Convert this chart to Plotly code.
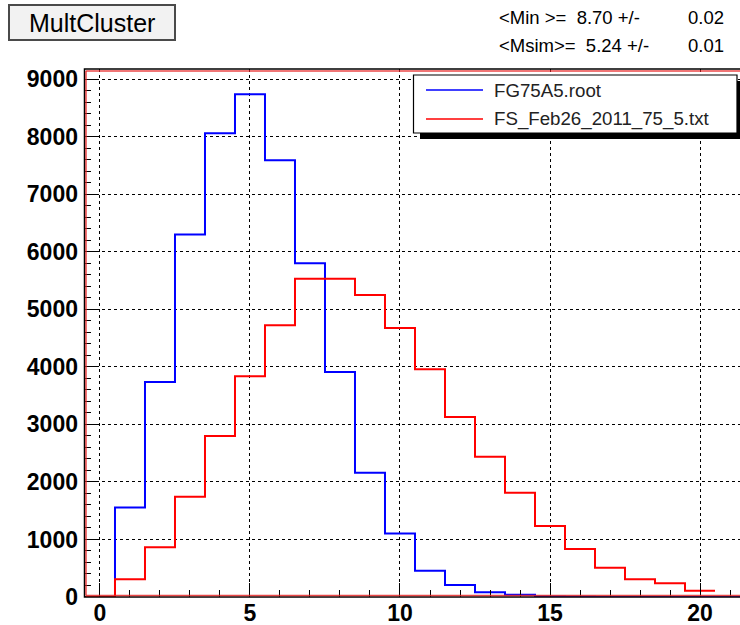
import numpy as np
import plotly.graph_objects as go

# Bin centres (unit-width bins) and counts for the two MultCluster histograms
bin_centres_in = list(range(0, 22))
counts_in = [0, 1557, 3738, 6300, 8060, 8740, 7590, 5800, 3910, 2160, 1105,
             457, 208, 81, 40, 10, 3, 0, 0, 0, 0, 0]

bin_centres_sim = list(range(0, 21))
counts_sim = [0, 307, 863, 1741, 2800, 3837, 4722, 5533, 5533, 5250, 4676,
              3958, 3130, 2436, 1811, 1233, 833, 509, 307, 238, 109]

legend_labels = ["FG75A5.root", "FS_Feb26_2011_75_5.txt"]
# mean values: label part and error part of each stats line
stats_left = ["<Min >=  8.70 +/-", "<Msim>=  5.24 +/-"]
stats_err = ["0.02", "0.01"]
title_text = "MultCluster"

x_ticks = [0, 5, 10, 15, 20]
y_ticks = [0, 1000, 2000, 3000, 4000, 5000, 6000, 7000, 8000, 9000]

W, H = 740, 625
L, R, T, B = 84, 0, 69, 28
PW, PH = W - L - R, H - T - B


def px(x):
    return (x - L) / PW


def py(y):
    return (H - B - y) / PH


def step_xy(centres, counts):
    """Histogram outline: left bin edges plus the final right edge."""
    c = np.asarray(centres, dtype=float)
    v = np.asarray(counts, dtype=float)
    xs = np.append(c - 0.5, c[-1] + 0.5)
    ys = np.append(v, v[-1])
    return xs, ys


def esc(s):
    return s.replace("<", "&lt;").replace(">", "&gt;").replace(" ", "\u00a0")


fig = go.Figure()

xb, yb = step_xy(bin_centres_in, counts_in)
fig.add_trace(go.Scatter(x=xb, y=yb, mode="lines", line_shape="hv",
                         line=dict(color="#0000ff", width=2),
                         name=legend_labels[0], showlegend=False))
xr, yr = step_xy(bin_centres_sim, counts_sim)
fig.add_trace(go.Scatter(x=xr, y=yr, mode="lines", line_shape="hv",
                         line=dict(color="#ff0000", width=2),
                         name=legend_labels[1], showlegend=False))

FONT = "Liberation Sans, Arial, Helvetica, sans-serif"
axis_common = dict(showgrid=True, gridcolor="black", gridwidth=1, griddash="dot",
                   zeroline=False, showline=False, ticks="inside",
                   tickcolor="black", tickwidth=1,
                   tickfont=dict(family=FONT, size=23, color="black", weight="bold"))

x_max = (W - 100) / 30.0
fig.update_xaxes(range=[-0.533, x_max], tickvals=x_ticks,
                 ticktext=[str(v) for v in x_ticks], ticklen=14,
                 minor=dict(ticks="inside", ticklen=7, dtick=1, tickcolor="black",
                            showgrid=False, tick0=0),
                 **axis_common)
fig.update_yaxes(range=[0, 9177], tickvals=y_ticks,
                 ticktext=[str(v) for v in y_ticks], ticklen=14,
                 minor=dict(ticks="inside", ticklen=7, dtick=200, tickcolor="black",
                            showgrid=False, tick0=0),
                 ticklabelstandoff=5,
                 **axis_common)

shapes = []
# frame: black outer edge with a red inner edge
shapes.append(dict(type="rect", xref="paper", yref="paper",
                   x0=px(84.5), x1=px(745), y0=py(597), y1=py(69),
                   line=dict(color="black", width=1.5), layer="above"))
for (xa, ya, xb_, yb_) in [(86, 71, 745, 71), (86, 71, 86, 595.5),
                           (86, 595.5, 745, 595.5)]:
    shapes.append(dict(type="line", xref="paper", yref="paper",
                       x0=px(xa), x1=px(xb_), y0=py(ya), y1=py(yb_),
                       line=dict(color="rgba(230,40,40,0.85)", width=1.5),
                       layer="above"))

# title box
shapes.append(dict(type="rect", xref="paper", yref="paper",
                   x0=px(10), x1=px(176), y0=py(41), y1=py(6),
                   fillcolor="#b8b8b8", line=dict(width=0), layer="above"))
shapes.append(dict(type="rect", xref="paper", yref="paper",
                   x0=px(9), x1=px(175), y0=py(40), y1=py(5),
                   fillcolor="#f2f2f2", line=dict(color="#4a4a4a", width=2),
                   layer="above"))

# legend box with drop shadow
shapes.append(dict(type="rect", xref="paper", yref="paper",
                   x0=px(420), x1=px(745), y0=py(139), y1=py(81),
                   fillcolor="black", line=dict(width=0), layer="above"))
shapes.append(dict(type="rect", xref="paper", yref="paper",
                   x0=px(413.5), x1=px(737), y0=py(133), y1=py(75),
                   fillcolor="white", line=dict(color="black", width=1.2),
                   layer="above"))
for yy, col in [(90, "#0000ff"), (119, "#ff0000")]:
    shapes.append(dict(type="line", xref="paper", yref="paper",
                       x0=px(426), x1=px(483), y0=py(yy), y1=py(yy),
                       line=dict(color=col, width=1.5), layer="above"))

annotations = []
annotations.append(dict(text=title_text, xref="paper", yref="paper",
                        x=px(92), y=py(23), xanchor="center", yanchor="middle",
                        showarrow=False,
                        font=dict(family=FONT, size=25, color="black")))
for i in range(len(stats_left)):
    yy = py(18 + 27 * i)
    annotations.append(dict(text=esc(stats_left[i]), xref="paper", yref="paper",
                            x=px(497), y=yy, xanchor="left",
                            yanchor="middle", showarrow=False,
                            font=dict(family=FONT, size=18.5, color="black")))
    annotations.append(dict(text=stats_err[i], xref="paper", yref="paper",
                            x=px(726), y=yy, xanchor="right",
                            yanchor="middle", showarrow=False,
                            font=dict(family=FONT, size=18.5, color="black")))
for i, s in enumerate(legend_labels):
    annotations.append(dict(text=s, xref="paper", yref="paper",
                            x=px(492), y=py(90 + 29 * i), xanchor="left",
                            yanchor="middle", showarrow=False,
                            font=dict(family=FONT, size=18.7, color="#222222")))

fig.update_layout(width=W, height=H,
                  margin=dict(l=L, r=R, t=T, b=B, pad=0),
                  paper_bgcolor="white", plot_bgcolor="white",
                  shapes=shapes, annotations=annotations, showlegend=False)

fig.write_html("out.html")
